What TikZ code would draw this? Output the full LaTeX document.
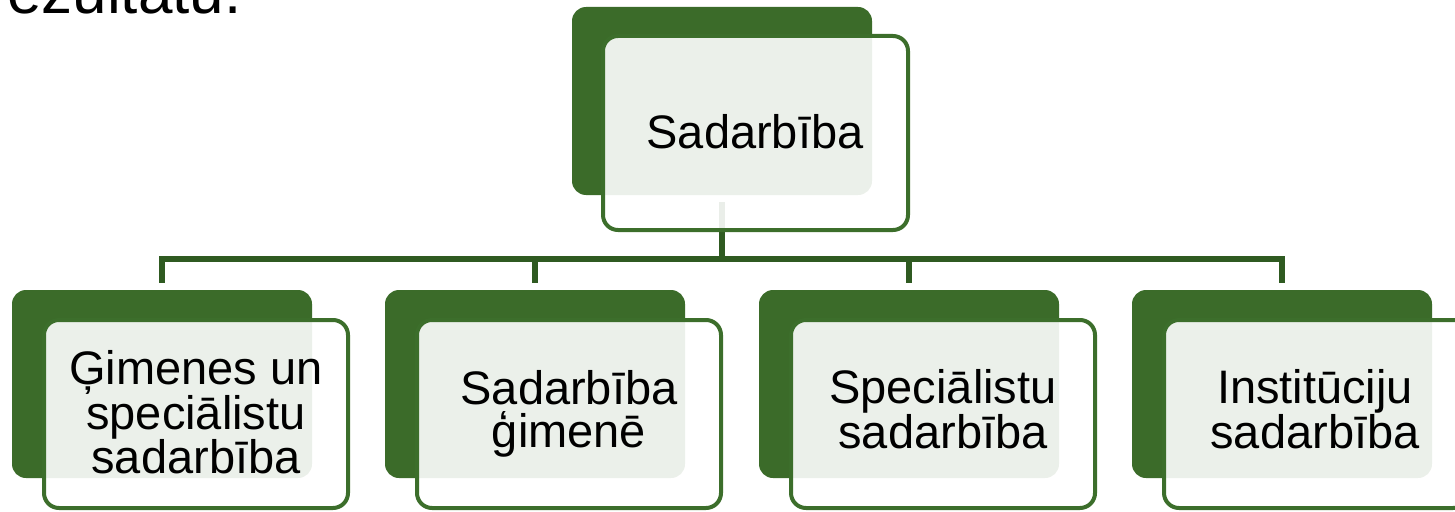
\documentclass[tikz,border=0pt]{standalone}
\usepackage{fontspec}
\setmainfont{Liberation Sans}
\definecolor{darkgreen}{HTML}{3B6B29}
\definecolor{linegreen}{HTML}{2F5A21}
\definecolor{bordergreen}{HTML}{3C6E2B}
\newcommand\myTopStrut{\rule{0pt}{34pt}}
\newcommand\myBotStrut{\rule[-10pt]{0pt}{10pt}}
\tikzset{
  darkbox/.style={rectangle, rounded corners=14pt, fill=darkgreen, draw=none, inner sep=0pt,
    minimum width=300pt, minimum height=188pt},
  outbox/.style={rectangle, rounded corners=15pt, draw=bordergreen, line width=4pt,
    fill=white, fill opacity=0.9, draw opacity=1, inner sep=0pt,
    minimum width=304pt, minimum height=188pt},
  topout/.style={outbox, minimum width=305pt, minimum height=194pt},
  conn/.style={draw=linegreen, line width=5.5pt, line join=miter},
  label/.style={inner sep=0pt, align=center, text=black,
    font=\fontsize{47}{42.5}\selectfont}
}
\begin{document}
\begin{tikzpicture}[x=1pt,y=-1pt]
\useasboundingbox (0,0) rectangle (1455,511);
\clip (0,0) rectangle (1455,511);
% partial title text
\node[anchor=base west, inner sep=0pt, font=\fontsize{62}{70}\selectfont] (title) at (7,14) {ezultātu.};
% dark back boxes
\node[darkbox] (t) at (722,101) {};
\node[darkbox] (b1) at (162,384) {};
\node[darkbox] (b2) at (535,384) {};
\node[darkbox] (b3) at (909,384) {};
\node[darkbox] (b4) at (1282,384) {};
\coordinate (bus) at (722,259);
% connectors
\draw[conn] ([yshift=-7pt]t.south) -- (t.south |- bus);
\draw[conn] ([yshift=7pt]b1.north) -- (b1.north |- bus) -- (b4.north |- bus) -- ([yshift=7pt]b4.north);
\draw[conn] (b2.north |- bus) -- ([yshift=7pt]b2.north);
\draw[conn] (b3.north |- bus) -- ([yshift=7pt]b3.north);
% outlined front boxes
\node[topout] (to) at (755.5,133) {};
\node[outbox] (o1) at (196,414) {};
\node[outbox] (o2) at (569,414) {};
\node[outbox] (o3) at (943,414) {};
\node[outbox] (o4) at (1316,414) {};
% texts
\node[label] (lt) at (755,136) {\myTopStrut Sadarbība\myBotStrut};
\node[label] (l1) at (196,417) {\myTopStrut Ģimenes un\\speciālistu\\sadarbība\myBotStrut};
\node[label] (l2) at (569,414) {\myTopStrut Sadarbība\\ģimenē\myBotStrut};
\node[label] (l3) at (943,414) {\myTopStrut Speciālistu\\sadarbība\myBotStrut};
\node[label] (l4) at (1315,414) {\myTopStrut Institūciju\\sadarbība\myBotStrut};
\end{tikzpicture}
\end{document}
